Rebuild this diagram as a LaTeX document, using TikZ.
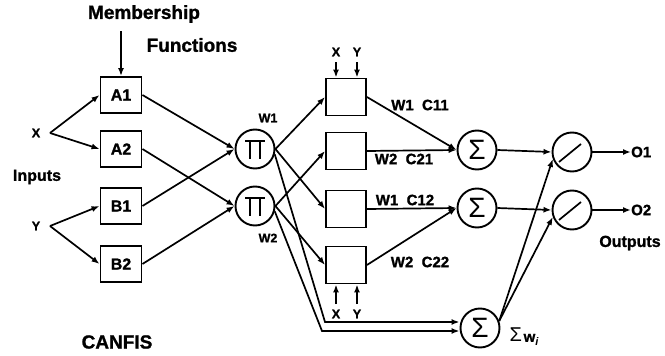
\documentclass[tikz,border=0pt]{standalone}
\usepackage{fontspec}
\setmainfont{Liberation Sans}[BoldFeatures={FakeBold=1.2}]
\usetikzlibrary{arrows.meta}

\begin{document}
\begin{tikzpicture}[x=1pt,y=-1pt,
  conn/.style={line width=1.7pt,-{Latex[length=8pt,width=6pt]}},
  wire/.style={line width=1.7pt},
  mf/.style={draw,line width=1.9pt,minimum width=41pt,minimum height=36pt,inner sep=0pt,
    font=\bfseries\fontsize{16}{16}\selectfont},
  rulebox/.style={draw,line width=1.9pt,minimum width=40pt,minimum height=37pt,inner sep=0pt},
  op/.style={draw,circle,line width=1.9pt,minimum size=39pt,inner sep=0pt},
  sumop/.style={op,font=\fontsize{28}{28}\selectfont},
  big/.style={font=\bfseries\fontsize{19}{19}\selectfont,inner sep=0pt},
  mid/.style={font=\bfseries\fontsize{16}{16}\selectfont,inner sep=0pt},
  lbl/.style={font=\bfseries\fontsize{15}{15}\selectfont,inner sep=0pt},
  sml/.style={font=\bfseries\fontsize{12.5}{12.5}\selectfont,inner sep=0pt},
]
\useasboundingbox (0,0) rectangle (665,356);

% titles
\node[big] (mem) at (144,14) {Membership};
\node[big] (fun) at (192,45) {Functions};
\node[big] (canfis) at (117,342) {CANFIS};
\node[mid] (inputs) at (37,177) {Inputs};
\node[mid] (outputs) at (630,243) {Outputs};

% inputs
\node[sml] (x) at (36,133) {X};
\node[sml] (y) at (36,226) {Y};
\coordinate (xj) at (50,133);
\coordinate (yj) at (50,226);

% membership function layer
\node[mf] (a1) at (121,95) {A1};
\node[mf] (a2) at (121,149) {A2};
\node[mf] (b1) at (121,206) {B1};
\node[mf] (b2) at (121,264) {B2};
\coordinate (mfin) at (121,31);
\draw[conn] (mfin) -- (a1.north);

\draw[conn] (xj) -- (a1.west);
\draw[conn] (xj) -- (a2.west);
\draw[conn] (yj) -- (b1.west);
\draw[conn] (yj) -- (b2.west);

% product layer
\node[op] (pi1) at (255,149) {};
\node[op] (pi2) at (255,206) {};
\foreach \p in {pi1,pi2}{
  \draw[wire] ([shift={(-10,-8)}]\p.center) -- ++(20,0);
  \draw[wire] ([shift={(-5,-8)}]\p.center) -- ++(0,18);
  \draw[wire] ([shift={(5,-8)}]\p.center) -- ++(0,18);
}
\node[sml] (w1) at (268,118) {W1};
\node[sml] (w2) at (268,238) {W2};

\draw[conn] (a1.east) -- (pi1.west);
\draw[conn] (b1.east) -- (pi1.west);
\draw[conn] (a2.east) -- (pi2.west);
\draw[conn] (b2.east) -- (pi2.west);

% rule consequent layer
\node[rulebox] (r1) at (346,97) {};
\node[rulebox] (r2) at (346,151) {};
\node[rulebox] (r3) at (346,209) {};
\node[rulebox] (r4) at (346,265) {};

\node[sml] (xt) at (336,52) {X};
\node[sml] (yt) at (357,52) {Y};
\coordinate (xt0) at (336,62);
\coordinate (yt0) at (357,62);
\draw[conn] (xt0) -- (xt0 |- r1.north);
\draw[conn] (yt0) -- (yt0 |- r1.north);
\node[sml] (xb) at (336,314) {X};
\node[sml] (yb) at (357,314) {Y};
\coordinate (xb0) at (336,304);
\coordinate (yb0) at (357,304);
\draw[conn] (xb0) -- (xb0 |- r4.south);
\draw[conn] (yb0) -- (yb0 |- r4.south);

\draw[conn] (pi1.east) -- (r1.west);
\draw[conn] (pi1.east) -- (r3.west);
\draw[conn] (pi2.east) -- (r2.west);
\draw[conn] (pi2.east) -- (r4.west);

% summation layer
\node[sumop] (s1) at (477,150) {Σ};
\node[sumop] (s2) at (477,208) {Σ};
\node[sumop] (s3) at (480,328) {Σ};
\node[inner sep=0pt] (sw) at (524,337)
  {{\fontsize{20}{20}\selectfont Σ}\,{\bfseries\fontsize{15}{15}\selectfont w}\raisebox{-4pt}{\bfseries\itshape\fontsize{11}{11}\selectfont i}};

\draw[conn] (r1.east) -- (s1.west);
\draw[conn] (r2.east) -- (s1.west);
\draw[conn] (r3.east) -- (s2.west);
\draw[conn] (r4.east) -- (s2.west);

\node[lbl] (l11) at (420,105) {W1\ \ C11};
\node[lbl] (l21) at (404,159) {W2\ \ C21};
\node[lbl] (l12) at (405,200) {W1\ \ C12};
\node[lbl] (l22) at (420,262) {W2\ \ C22};

% weights routed to the normalising sum
\coordinate (k1) at (325,322);
\coordinate (k2) at (322,331);
\draw[conn] (pi1.-15) -- (k1) -- (s3.west |- k1);
\draw[conn] (pi2.-15) -- (k2) -- (s3.west |- k2);

% division layer
\node[op] (d1) at (572,152) {};
\node[op] (d2) at (572,210) {};
\foreach \d in {d1,d2}{
  \draw[wire] ([shift={(-13,10)}]\d.center) -- ([shift={(9,-8)}]\d.center);
}
\draw[conn] (s1.east) -- (d1.west);
\draw[conn] (s2.east) -- (d2.west);
\draw[conn] (s3.20) -- (d1.200);
\draw[conn] (s3.20) -- (d2.200);

% outputs
\node[lbl,anchor=west] (o1) at (631,152) {O1};
\node[lbl,anchor=west] (o2) at (631,210) {O2};
\draw[conn] (d1.east) -- (o1.west);
\draw[conn] (d2.east) -- (o2.west);
\end{tikzpicture}
\end{document}
